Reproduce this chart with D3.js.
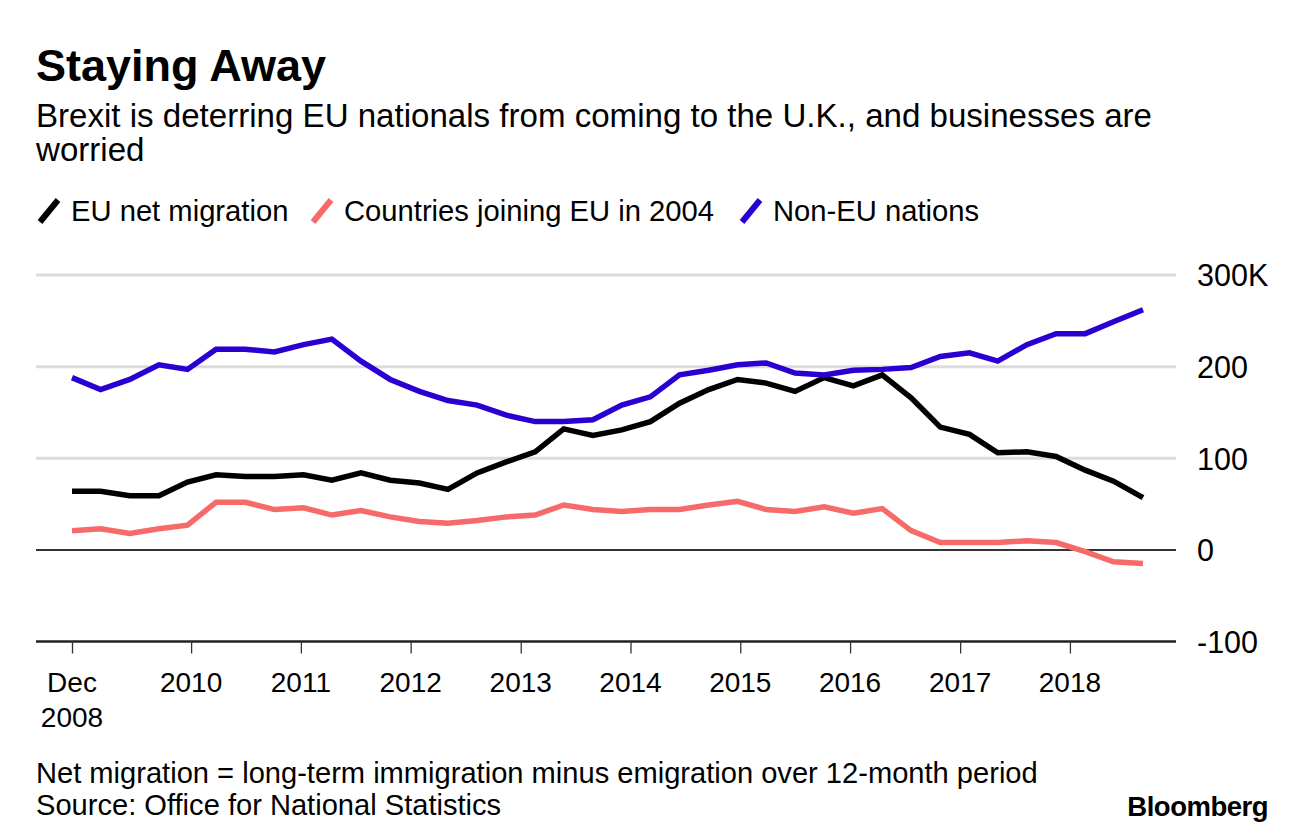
<!DOCTYPE html>
<html>
<head>
<meta charset="utf-8">
<script src="https://cdn.jsdelivr.net/npm/d3@7"></script>
<style>
  html, body { margin: 0; padding: 0; background: #fff; }
  svg { display: block; font-family: "Liberation Sans", Arial, sans-serif; }
</style>
</head>
<body>
<svg id="chart" width="1296" height="838"></svg>
<script>
// ---- Data ----
const periods = [
  "2008-12-01","2009-03-06","2009-06-11","2009-09-16","2009-12-20","2010-03-25","2010-06-30","2010-10-05",
  "2011-01-10","2011-04-14","2011-07-20","2011-10-25","2012-01-30","2012-05-04","2012-08-09","2012-11-14",
  "2013-02-18","2013-05-24","2013-08-29","2013-12-03","2014-03-08","2014-06-13","2014-09-18","2014-12-23",
  "2015-03-28","2015-07-02","2015-10-07","2016-01-12","2016-04-17","2016-07-22","2016-10-27","2017-02-01",
  "2017-05-06","2017-08-11","2017-11-16","2018-02-21","2018-05-26","2018-09-01"
];
const euNet = [
  64, 64, 59, 59, 74, 82, 80, 80, 82, 76, 84, 76, 73, 66, 84, 96,
  107, 132, 125, 131, 140, 160, 175, 186, 182, 173, 188, 179, 191, 166, 134, 126,
  106, 107, 102, 87, 75, 57
];
const joined2004 = [
  21, 23, 18, 23, 27, 52, 52, 44, 46, 38, 43, 36, 31, 29, 32, 36,
  38, 49, 44, 42, 44, 44, 49, 53, 44, 42, 47, 40, 45, 21, 8, 8,
  8, 10, 8, -2, -13, -15
];
const nonEU = [
  188, 175, 186, 202, 197, 219, 219, 216, 224, 230, 206, 186, 173, 163, 158, 147,
  140, 140, 142, 158, 167, 191, 196, 202, 204, 193, 191, 196, 197, 199, 211, 215,
  206, 224, 236, 236, 249, 262
];
const seriesNames = ["EU net migration", "Countries joining EU in 2004", "Non-EU nations"];
const seriesColors = ["#000000", "#f76a6a", "#2a00d2"];
const yTicks = [-100, 0, 100, 200, 300];
const yTickLabels = ["-100", "0", "100", "200", "300K"];
const xTickDates = ["2008-12-01","2010-01-01","2011-01-01","2012-01-01","2013-01-01","2014-01-01","2015-01-01","2016-01-01","2017-01-01","2018-01-01"];
const xTickLabels = [["Dec","2008"],["2010"],["2011"],["2012"],["2013"],["2014"],["2015"],["2016"],["2017"],["2018"]];

const title = "Staying Away";
const subtitleLines = ["Brexit is deterring EU nationals from coming to the U.K., and businesses are", "worried"];
const footnotes = ["Net migration = long-term immigration minus emigration over 12-month period", "Source: Office for National Statistics"];

// ---- Drawing ----
const svg = d3.select("#chart");
const parse = d3.utcParse("%Y-%m-%d");
const dates = periods.map(parse);

const x = d3.scaleUtc()
  .domain([parse("2008-12-01"), parse("2018-09-01")])
  .range([72, 1143]);
const y = d3.scaleLinear().domain([-100, 300]).range([641.5, 275]);

const gridLeft = 36, gridRight = 1176;

// Title & subtitle
svg.append("text").attr("x", 36).attr("y", 81)
  .attr("font-size", 45).attr("font-weight", 700).attr("fill", "#000").text(title);
subtitleLines.forEach((t, i) => {
  svg.append("text").attr("x", 36).attr("y", 127 + i * 34)
    .attr("font-size", 33.1).attr("fill", "#000").text(t);
});

// Legend
const legendX = [38, 311, 740];
seriesNames.forEach((name, i) => {
  const g = svg.append("g").attr("transform", `translate(${legendX[i]},0)`);
  g.append("line").attr("x1", 2).attr("y1", 222).attr("x2", 20).attr("y2", 200)
    .attr("stroke", seriesColors[i]).attr("stroke-width", 6).attr("stroke-linecap", "butt");
  g.append("text").attr("x", 33).attr("y", 221).attr("font-size", 29.2).attr("fill", "#000").text(name);
});

// Gridlines
const grid = svg.append("g");
yTicks.forEach(v => {
  let stroke = "#dcdcdc", sw = 3;
  if (v === 0) { stroke = "#333"; sw = 2; }
  if (v === -100) { stroke = "#222"; sw = 2.5; }
  grid.append("line").attr("x1", gridLeft).attr("x2", gridRight)
    .attr("y1", y(v)).attr("y2", y(v)).attr("stroke", stroke).attr("stroke-width", sw);
});

// Y labels (right side)
const yAxis = d3.axisRight(y).tickValues(yTicks).tickSize(0)
  .tickFormat((d, i) => yTickLabels[i]);
const yg = svg.append("g").attr("transform", "translate(1197,0)").call(yAxis);
yg.select(".domain").remove();
yg.selectAll("text").attr("x", 0).attr("dy", "0.36em")
  .attr("font-size", 30.5).attr("font-family", "Liberation Sans, Arial, sans-serif").attr("fill", "#000");

// X axis ticks
const xAxis = d3.axisBottom(x).tickValues(xTickDates.map(parse)).tickSize(12).tickFormat("");
const xg = svg.append("g").attr("transform", `translate(0,${y(-100)})`).call(xAxis);
xg.select(".domain").remove();
xg.selectAll(".tick line").attr("stroke", "#333").attr("stroke-width", 1.3);
xTickDates.forEach((d, i) => {
  const t = svg.append("text").attr("x", x(parse(d))).attr("y", 692)
    .attr("text-anchor", "middle").attr("font-size", 28).attr("fill", "#000");
  xTickLabels[i].forEach((line, j) => {
    t.append("tspan").attr("x", x(parse(d))).attr("dy", j === 0 ? 0 : 35).text(line);
  });
});

// Lines
const allSeries = [euNet, joined2004, nonEU];
const lineGen = d3.line().x((d, i) => x(dates[i])).y(d => y(d));
[1, 0, 2].forEach(si => {
  svg.append("path").datum(allSeries[si])
    .attr("d", lineGen)
    .attr("fill", "none")
    .attr("stroke", seriesColors[si])
    .attr("stroke-width", 5.5)
    .attr("stroke-linejoin", "miter")
    .attr("stroke-linecap", "butt");
});

// Footnotes
footnotes.forEach((t, i) => {
  svg.append("text").attr("x", 36).attr("y", 783 + i * 32)
    .attr("font-size", 29.1).attr("fill", "#000").text(t);
});
svg.append("text").attr("x", 1268).attr("y", 816).attr("text-anchor", "end")
  .attr("font-size", 27.5).attr("font-weight", 700).attr("letter-spacing", -0.5).attr("fill", "#000").text("Bloomberg");
</script>
</body>
</html>
